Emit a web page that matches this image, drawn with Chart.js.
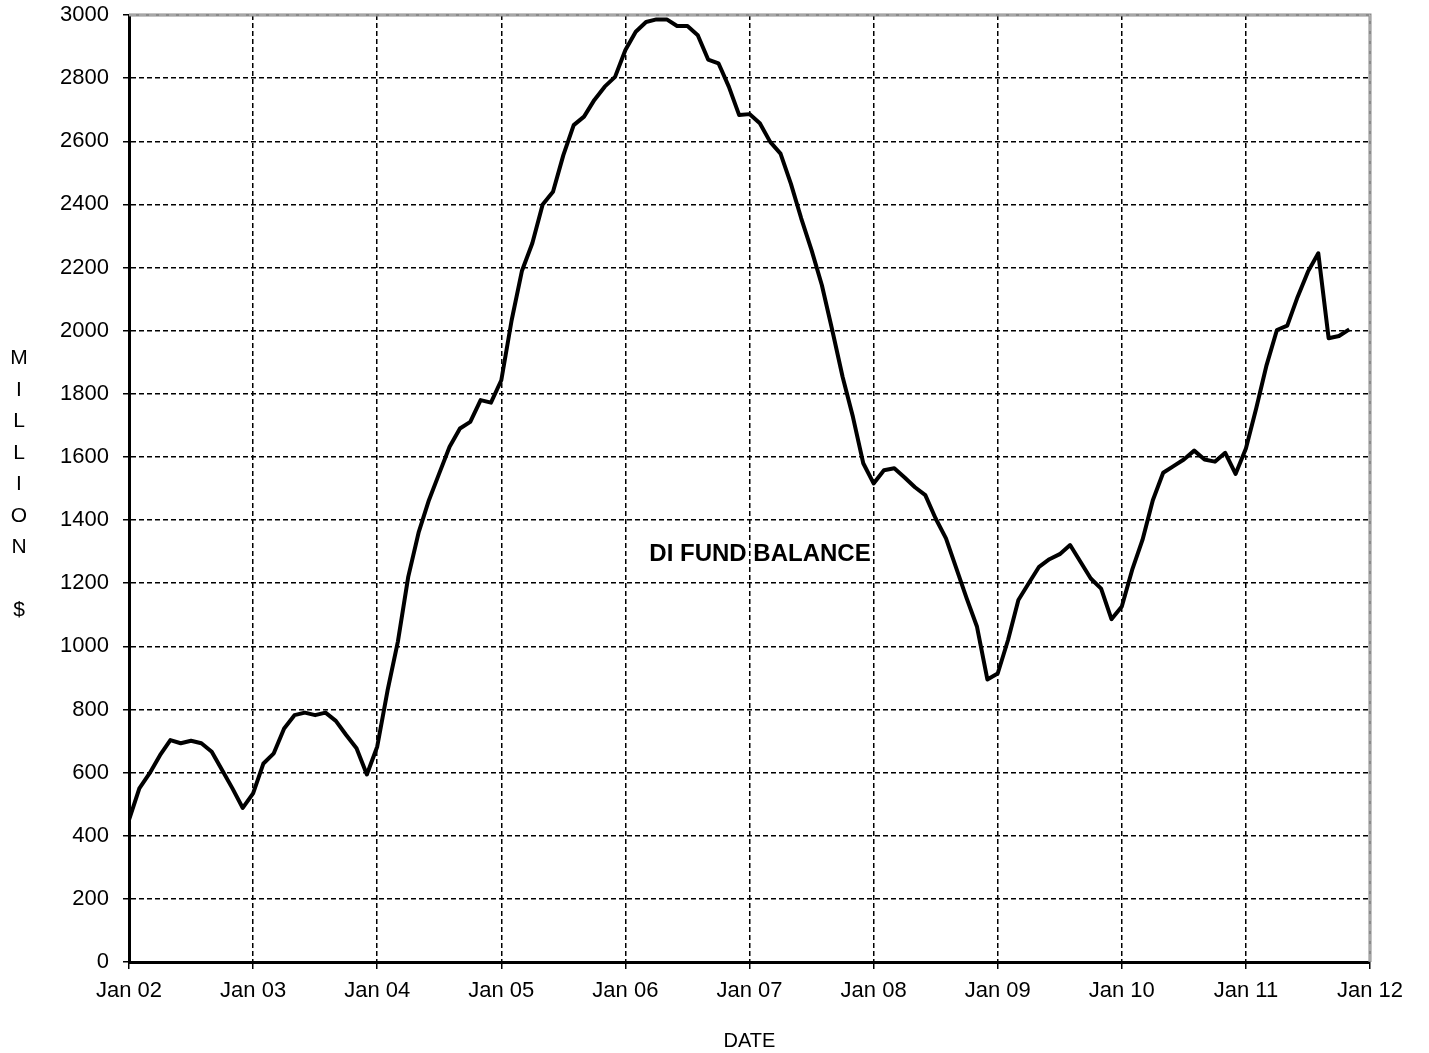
<!DOCTYPE html>
<html>
<head>
<meta charset="utf-8">
<script src="https://cdn.jsdelivr.net/npm/chart.js@4.4.1/dist/chart.umd.min.js"></script>
<style>
  html, body { margin: 0; padding: 0; background: #fff; }
  #wrap { position: relative; width: 1429px; height: 1053px; }
  #fundChart { position: absolute; left: 0; top: 0; }
  #yTitle {
    position: absolute; left: 5px; top: 341px; width: 28px;
    font: 21px "Liberation Sans", Arial, sans-serif; line-height: 31.5px;
    text-align: center; color: #000; white-space: pre;
  }
  #note {
    position: absolute; left: 560px; top: 539px; width: 400px; text-align: center;
    font: bold 24px "Liberation Sans", Arial, sans-serif; color: #000;
  }
</style>
</head>
<body>
<div id="wrap">
  <canvas id="fundChart" width="1429" height="1053"></canvas>
  <div id="yTitle">M
I
L
L
I
O
N

$</div>
  <div id="note">DI FUND BALANCE</div>
</div>
<script>
// Saldo mensual del fondo (millones $), enero a diciembre de cada año
const fund2002 = [450, 550, 598, 655, 703, 693, 701, 693, 666, 608, 550, 488];
const fund2003 = [534, 629, 661, 740, 782, 790, 782, 790, 764, 719, 677, 594];
const fund2004 = [682, 860, 1015, 1220, 1360, 1463, 1548, 1632, 1690, 1711, 1780, 1772];
const fund2005 = [1843, 2033, 2190, 2277, 2400, 2440, 2556, 2651, 2678, 2731, 2773, 2804];
const fund2006 = [2889, 2947, 2978, 2986, 2986, 2965, 2965, 2936, 2859, 2847, 2773, 2683];
const fund2007 = [2686, 2657, 2598, 2561, 2466, 2356, 2255, 2144, 2002, 1854, 1727, 1580];
const fund2008 = [1516, 1558, 1564, 1535, 1504, 1479, 1405, 1342, 1247, 1152, 1062, 895];
const fund2009 = [914, 1020, 1147, 1200, 1252, 1276, 1292, 1321, 1268, 1215, 1183, 1086];
const fund2010 = [1126, 1242, 1337, 1463, 1550, 1571, 1592, 1620, 1592, 1585, 1613, 1546];
const fund2011 = [1627, 1754, 1891, 2002, 2016, 2107, 2187, 2245, 1976, 1983, 2004];

const tickLabels = ['Jan 02', 'Jan 03', 'Jan 04', 'Jan 05', 'Jan 06', 'Jan 07',
                    'Jan 08', 'Jan 09', 'Jan 10', 'Jan 11', 'Jan 12'];

const allMonths = [].concat(fund2002, fund2003, fund2004, fund2005, fund2006,
                            fund2007, fund2008, fund2009, fund2010, fund2011);
const points = allMonths.map((v, i) => ({ x: i, y: v }));

// marco gris arriba y a la derecha
const framePlugin = {
    id: 'frame',
    beforeDatasetsDraw(chart) {
        const { ctx, chartArea: a } = chart;
        ctx.save();
        ctx.lineWidth = 3;
        ctx.strokeStyle = '#8a8a8a';
        ctx.beginPath();
        ctx.moveTo(a.left, a.top);
        ctx.lineTo(a.right, a.top);
        ctx.lineTo(a.right, a.bottom);
        ctx.stroke();
        ctx.lineWidth = 1;
        ctx.strokeStyle = '#c4c4c4';
        ctx.setLineDash([7, 3]);
        ctx.stroke();
        ctx.restore();
    }
};

const font = { family: '"Liberation Sans", Arial, sans-serif', size: 22 };

new Chart(document.getElementById('fundChart').getContext('2d'), {
    type: 'line',
    data: {
        datasets: [{
            label: 'DI FUND BALANCE',
            data: points,
            borderColor: '#000',
            borderWidth: 4,
            borderJoinStyle: 'round',
            pointRadius: 0,
            tension: 0,
            fill: false
        }]
    },
    options: {
        responsive: false,
        animation: false,
        layout: { padding: { top: 15, right: 59, left: 0, bottom: 0 } },
        plugins: {
            legend: { display: false },
            tooltip: { enabled: false }
        },
        scales: {
            x: {
                type: 'linear',
                min: 0,
                max: 120,
                afterFit: (s) => { s.height = 91; },
                afterBuildTicks: (s) => {
                    s.ticks = tickLabels.map((t, i) => ({ value: i * 12 }));
                },
                ticks: {
                    color: '#000',
                    font: font,
                    padding: 9,
                    maxRotation: 0,
                    autoSkip: false,
                    callback: (v) => tickLabels[v / 12]
                },
                grid: {
                    color: (c) => (c.tick && c.tick.value === 120) ? 'rgba(0,0,0,0)' : '#000',
                    lineWidth: 1.5,
                    tickLength: 7,
                    tickColor: '#000',
                    tickWidth: 1.5,
                    tickBorderDash: []
                },
                border: { display: true, color: '#000', width: 3, dash: [5, 3] },
                title: {
                    display: true,
                    text: 'DATE',
                    color: '#000',
                    font: { family: font.family, size: 20 },
                    padding: { top: 0, bottom: 0 }
                }
            },
            y: {
                min: 0,
                max: 3000,
                afterFit: (s) => {
                    s.width = 129;
                    s.paddingTop = 12;
                    s.paddingBottom = 12;
                },
                ticks: {
                    stepSize: 200,
                    color: '#000',
                    font: font,
                    padding: 14,
                    callback: (v) => String(v)
                },
                grid: {
                    color: (c) => (c.tick && c.tick.value === 3000) ? 'rgba(0,0,0,0)' : '#000',
                    lineWidth: 1.5,
                    tickLength: 6,
                    tickColor: '#000',
                    tickWidth: 1.5,
                    tickBorderDash: []
                },
                border: { display: true, color: '#000', width: 3, dash: [5, 3] }
            }
        }
    },
    plugins: [framePlugin]
});
</script>
</body>
</html>
